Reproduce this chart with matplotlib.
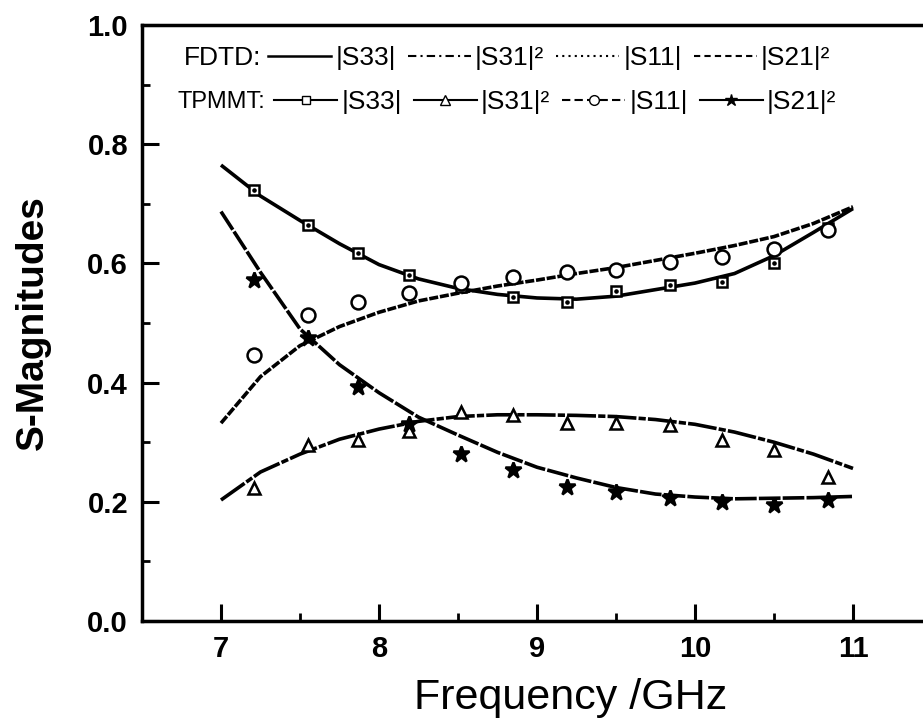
import matplotlib
matplotlib.use("Agg")
import matplotlib.pyplot as plt
from matplotlib.lines import Line2D
from matplotlib.ticker import MultipleLocator

# ---- data ----
freq_curve = [7.0, 7.25, 7.5, 7.75, 8.0, 8.25, 8.5, 8.75, 9.0, 9.25, 9.5, 9.75, 10.0, 10.25, 10.5, 10.75, 11.0]
fdtd_s33 = [0.765, 0.713, 0.672, 0.633, 0.598, 0.574, 0.558, 0.548, 0.542, 0.540, 0.545, 0.556, 0.567, 0.583, 0.613, 0.652, 0.692]
fdtd_s31 = [0.203, 0.250, 0.280, 0.305, 0.322, 0.335, 0.343, 0.346, 0.346, 0.345, 0.343, 0.338, 0.330, 0.317, 0.300, 0.280, 0.256]
fdtd_s11 = [0.332, 0.410, 0.462, 0.494, 0.518, 0.537, 0.550, 0.562, 0.572, 0.583, 0.593, 0.605, 0.617, 0.630, 0.645, 0.667, 0.695]
fdtd_s21 = [0.687, 0.585, 0.490, 0.430, 0.383, 0.342, 0.312, 0.283, 0.258, 0.240, 0.224, 0.213, 0.208, 0.205, 0.206, 0.207, 0.209]

freq_pts = [7.21, 7.55, 7.87, 8.19, 8.52, 8.85, 9.19, 9.50, 9.84, 10.17, 10.50, 10.84]
tpmmt_s33 = [0.723, 0.664, 0.617, 0.581, 0.560, 0.544, 0.536, 0.553, 0.564, 0.569, 0.600, 0.660]
tpmmt_s31 = [0.223, 0.295, 0.304, 0.318, 0.351, 0.346, 0.332, 0.332, 0.329, 0.304, 0.287, 0.242]
tpmmt_s11 = [0.446, 0.513, 0.536, 0.550, 0.567, 0.578, 0.586, 0.589, 0.603, 0.611, 0.625, 0.656]
tpmmt_s21 = [0.572, 0.475, 0.393, 0.330, 0.281, 0.253, 0.225, 0.217, 0.206, 0.200, 0.195, 0.203]

x_ticks = [7, 8, 9, 10, 11]
x_ticklabels = ["7", "8", "9", "10", "11"]
y_ticks = [0.0, 0.2, 0.4, 0.6, 0.8, 1.0]
y_ticklabels = ["0.0", "0.2", "0.4", "0.6", "0.8", "1.0"]
legend_labels = ["|S33|", "|S31|²", "|S11|", "|S21|²"]

FONT = ["Liberation Sans", "DejaVu Sans"]

fig = plt.figure(figsize=(9.23, 7.28), dpi=100)
ax = fig.add_axes([142 / 923, 107 / 728, 790 / 923, 596 / 728])
ax.set_xlim(6.5, 11.5)
ax.set_ylim(0, 1)

lw = 2.6
styles = ["-", (0, (8, 0.6, 2, 0.6)), (0, (2.5, 0.5)), (0, (6, 0.6))]
for ys, ls in zip([fdtd_s33, fdtd_s31, fdtd_s11, fdtd_s21], styles):
    ax.plot(freq_curve, ys, color="black", lw=lw, ls=ls, solid_capstyle="butt")

mk = dict(color="black", ls="none", markeredgewidth=1.8)
ax.plot(freq_pts, tpmmt_s33, marker="s", markersize=7, markerfacecolor="white", **mk)
ax.plot(freq_pts, tpmmt_s33, marker=".", markersize=3, **mk)
ax.plot(freq_pts, tpmmt_s31, marker="^", markersize=9, markerfacecolor="white", **mk)
ax.plot(freq_pts, tpmmt_s11, marker="o", markersize=10, markerfacecolor="white", **mk)
ax.plot(freq_pts, tpmmt_s21, marker="*", markersize=12, markerfacecolor="black", **mk)

for s in ax.spines.values():
    s.set_linewidth(2.5)

ax.set_xticks(x_ticks)
ax.set_xticklabels(x_ticklabels)
ax.set_yticks(y_ticks)
ax.set_yticklabels(y_ticklabels)
ax.xaxis.set_minor_locator(MultipleLocator(0.5))
ax.yaxis.set_minor_locator(MultipleLocator(0.1))
ax.tick_params(which="major", direction="in", length=12, width=2.2, pad=10)
ax.tick_params(which="minor", direction="in", length=6, width=2)
ax.tick_params(top=False, right=False)
for lab in ax.get_xticklabels() + ax.get_yticklabels():
    lab.set_family(FONT)
    lab.set_fontweight("bold")
    lab.set_fontsize(21)

ax.set_xlabel("Frequency /GHz", fontsize=31, family=FONT)
ax.xaxis.set_label_coords(0.542, -0.095)
ax.set_ylabel("S-Magnitudes", fontsize=28, family=FONT, fontweight="bold", labelpad=26)

# ---- legend rows ----
leg_font = dict(family=FONT, size=19)
fdtd_handles = [
    Line2D([], [], color="black", lw=1.8, ls="-"),
    Line2D([], [], color="black", lw=1.5, ls=(0, (4, 2, 1, 2))),
    Line2D([], [], color="black", lw=1.5, ls=(0, (1, 2))),
    Line2D([], [], color="black", lw=1.5, ls=(0, (3, 2))),
]
tp_handles = [
    Line2D([], [], color="black", lw=1.5, marker="s", markersize=6, markerfacecolor="white"),
    Line2D([], [], color="black", lw=1.5, marker="^", markersize=7, markerfacecolor="white"),
    Line2D([], [], color="black", lw=1.5, ls=(0, (4, 2)), marker="o", markersize=7, markerfacecolor="white"),
    Line2D([], [], color="black", lw=1.5, marker="*", markersize=9, markerfacecolor="black"),
]
common = dict(ncol=4, frameon=False, handlelength=2.4, handletextpad=0.15,
              columnspacing=0.45, prop=leg_font, borderpad=0, borderaxespad=0)
leg1 = ax.legend(fdtd_handles, legend_labels, loc="center left",
                 bbox_to_anchor=(126 / 790, 1 - 33 / 596), **common)
ax.add_artist(leg1)
leg2 = ax.legend(tp_handles, legend_labels, loc="center left",
                 bbox_to_anchor=(132 / 790, 1 - 77 / 596), **common)
ax.text(42 / 790, 1 - 33 / 596, "FDTD:", transform=ax.transAxes, va="center", ha="left",
        family=FONT, size=19)
ax.text(36 / 790, 1 - 77 / 596, "TPMMT:", transform=ax.transAxes, va="center", ha="left",
        family=FONT, size=17)

fig.savefig("out.png", dpi=100)
